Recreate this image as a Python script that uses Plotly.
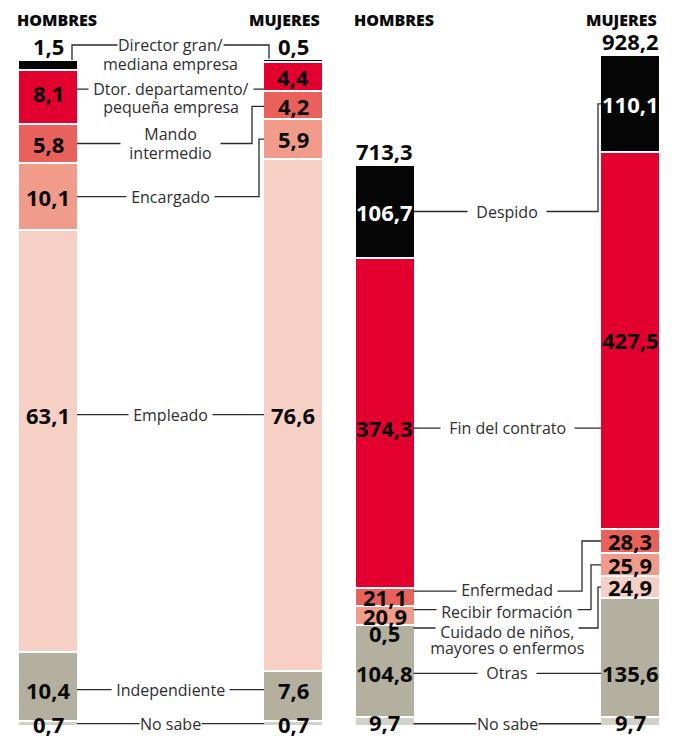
import plotly.graph_objects as go

# ---------------- data ----------------
groups = ["HOMBRES", "MUJERES"]

cats_left = ["Director gran/|mediana empresa", "Dtor. departamento/|pequeña empresa",
             "Mando|intermedio", "Encargado", "Empleado", "Independiente", "No sabe"]
hombres_left = [1.5, 8.1, 5.8, 10.1, 63.1, 10.4, 0.7]
mujeres_left = [0.5, 4.4, 4.2, 5.9, 76.6, 7.6, 0.7]

cats_right = ["Despido", "Fin del contrato", "Enfermedad", "Recibir formación",
              "Cuidado de niños,|mayores o enfermos", "Otras", "No sabe"]
hombres_right = [106.7, 374.3, 21.1, 20.9, 0.5, 104.8, 9.7]
mujeres_right = [110.1, 427.5, 28.3, 25.9, 24.9, 135.6, 9.7]
totals_right = [713.3, 928.2]

colors = ["#050505", "#e2002f", "#e8625b", "#f19b8b", "#f7d0c5", "#b3b09f", "#d3d2c8"]

# ---------------- layout config ----------------
W, H = 682, 742
ZERO_PX = 726
BAR_PX = 60
FONT = "Open Sans"
NB = "\u00a0"

# row: (anchor, px shift up); val: (anchor, px shift up)
left_cfg = [
    dict(row=("htop", 15), conn="top", hval=("row", -1), mval=("row", -1), pad=0, off=[0, -19], bg=[0]),
    dict(row=("h", 8), conn="straight", hval=("row", -4), mval=("mid", 0), pad=1, off=[0, -18], bg=[0]),
    dict(row=("h", 0), conn="elbow", elbow=12, hval=("row", 0), mval=("mid", -1), pad=2, off=[9.5, -9.5], bg=[0, 1]),
    dict(row=("h", 0), conn="elbow", elbow=5, hval=("row", 0), mval=("mid", 0), pad=1, off=[0], bg=[0]),
    dict(row=("m", 0), conn="straight", hval=("row", 0), mval=("row", 0), pad=1, off=[0], bg=[0]),
    dict(row=("h", -3), conn="straight", hval=("row", 0), mval=("row", 0), pad=1, off=[0], bg=[0]),
    dict(row=("h", 0), conn="straight", hval=("row", 0), mval=("row", 0), pad=0, off=[0], bg=[0]),
]
right_cfg = [
    dict(row=("h", 0), conn="elbow", elbow=3, hval=("row", 0), mval=("mid", 0), pad=2, off=[0], bg=[0], white=True),
    dict(row=("h", -5), conn="straight", hval=("row", 0), mval=("mid", 0), pad=2, off=[0], bg=[0]),
    dict(row=("h", 6), conn="elbow", elbow=19, hval=("mid", 0), mval=("mid", 0), pad=1, off=[1], bg=[0]),
    dict(row=("h", 6), conn="elbow", elbow=10, hval=("mid", 0), mval=("mid", 0), pad=1, off=[-2], bg=[0]),
    dict(row=("h", -3), conn="elbow", elbow=3, hval=("row", -5), mval=("mid", 0), pad=1, off=[-4, -20], bg=[0]),
    dict(row=("h", -2), conn="straight", hval=("row", 0), mval=("row", 0), pad=2, off=[0], bg=[0]),
    dict(row=("h", -2), conn="straight", hval=("row", 2), mval=("row", 2), pad=0, off=[0], bg=[0]),
]

panels = [
    dict(cats=cats_left, h=hombres_left, m=mujeres_left, xa="x", ya="y", key="",
         dom=(0, 341), centers=(48, 293), s=6.68, cfg=left_cfg, totals=None),
    dict(cats=cats_right, h=hombres_right, m=mujeres_right, xa="x2", ya="y2", key="2",
         dom=(341, 682), centers=(384.5, 630), s=0.88, cfg=right_cfg, totals=totals_right),
]


def fmt(v):
    return f"{v:.1f}".replace(".", ",")


def bottoms(vals):
    b = [0.0] * len(vals)
    run = 0.0
    for i in reversed(range(len(vals))):
        b[i] = run
        run += vals[i]
    return b, run


fig = go.Figure()
shapes = []
annots = []
layout_axes = {}

for p in panels:
    unit = p["centers"][1] - p["centers"][0]
    xr = [(p["dom"][0] - p["centers"][0]) / unit, (p["dom"][1] - p["centers"][0]) / unit]
    s = p["s"]
    yr = [-(H - ZERO_PX) / s, ZERO_PX / s]
    px2x = 1.0 / unit
    px2y = 1.0 / s
    bw = BAR_PX / unit
    xa, ya = p["xa"], p["ya"]

    layout_axes["xaxis" + p["key"]] = dict(domain=[p["dom"][0] / W, p["dom"][1] / W], range=xr,
                                           visible=False, fixedrange=True)
    layout_axes["yaxis" + p["key"]] = dict(domain=[0, 1], range=yr, visible=False, fixedrange=True)

    n = len(p["cats"])
    for i in reversed(range(n)):
        fig.add_trace(go.Bar(
            x=[0, 1], y=[p["h"][i], p["m"][i]], width=bw,
            marker=dict(color=colors[i], line=dict(color="white", width=2)),
            xaxis=xa, yaxis=ya, showlegend=False, hoverinfo="skip",
        ))

    hb, htot = bottoms(p["h"])
    mb, mtot = bottoms(p["m"])
    hR = bw / 2 - 1 * px2x
    mL = 1 - bw / 2 + 1 * px2x

    for i, c in enumerate(p["cfg"]):
        hmid = hb[i] + p["h"][i] / 2
        mmid = mb[i] + p["m"][i] / 2
        kind, sh = c["row"]
        base = {"h": hmid, "m": mmid, "htop": htot}[kind]
        row_y = base + sh * px2y

        def val_y(spec, mid):
            k, shv = spec
            return (row_y if k == "row" else mid) + shv * px2y

        hy = val_y(c["hval"], hmid)
        my = val_y(c["mval"], mmid)

        if c["conn"] == "straight":
            path = f"M {hR},{row_y} L {mL},{row_y}"
        elif c["conn"] == "elbow":
            xe = mL - c["elbow"] * px2x
            path = f"M {hR},{row_y} L {xe},{row_y} L {xe},{my} L {mL},{my}"
        else:
            xl = hR - 5 * px2x
            xrr = mL + 5 * px2x
            path = f"M {xl},{htot} L {xl},{row_y} L {xrr},{row_y} L {xrr},{mtot}"
        shapes.append(dict(type="path", path=path, xref=xa, yref=ya,
                           line=dict(color="#2a2a2a", width=1.3), layer="above"))

        # category label lines
        for j, line in enumerate(p["cats"][i].split("|")):
            txt = NB * c["pad"] + line + NB * c["pad"]
            a = dict(x=0.5, y=row_y + c["off"][j] * px2y, xref=xa, yref=ya, text=txt,
                     showarrow=False, xanchor="center", yanchor="middle",
                     font=dict(family=FONT, size=16, color="#2e2e2e"), borderpad=0)
            if j in c["bg"]:
                a["bgcolor"] = "white"
            annots.append(a)

        vcol = "white" if c.get("white") else "#0a0a0a"
        for xi, (val, yy) in enumerate([(p["h"][i], hy), (p["m"][i], my)]):
            annots.append(dict(x=xi, y=yy, xref=xa, yref=ya, text=fmt(val), showarrow=False,
                               xanchor="center", yanchor="middle",
                               font=dict(family=FONT, size=22, color=vcol, weight=700)))

    if p["totals"]:
        for xi, (tot, top) in enumerate(zip(p["totals"], [htot, mtot])):
            annots.append(dict(x=xi, y=top + 14 * px2y, xref=xa, yref=ya, text=fmt(tot),
                               showarrow=False, xanchor="center", yanchor="middle",
                               font=dict(family=FONT, size=22, color="#0a0a0a", weight=700)))

    # headers
    annots.append(dict(x=-bw / 2, xshift=-3, y=(H - 20) / H, xref=xa, yref="paper", text=groups[0],
                       showarrow=False, xanchor="left", yanchor="middle",
                       font=dict(family=FONT, size=16, color="#0a0a0a", weight=800)))
    annots.append(dict(x=1 + bw / 2, xshift=-1, y=(H - 20) / H, xref=xa, yref="paper", text=groups[1],
                       showarrow=False, xanchor="right", yanchor="middle",
                       font=dict(family=FONT, size=16, color="#0a0a0a", weight=800)))

fig.update_layout(
    width=W, height=H, margin=dict(l=0, r=0, t=0, b=0),
    barmode="stack", bargap=0,
    paper_bgcolor="white", plot_bgcolor="white",
    shapes=shapes, annotations=annots,
    **layout_axes,
)

fig.write_html("out.html", config={"displayModeBar": False},
               post_script="document.body.style.margin='0';document.body.style.overflow='hidden';")
